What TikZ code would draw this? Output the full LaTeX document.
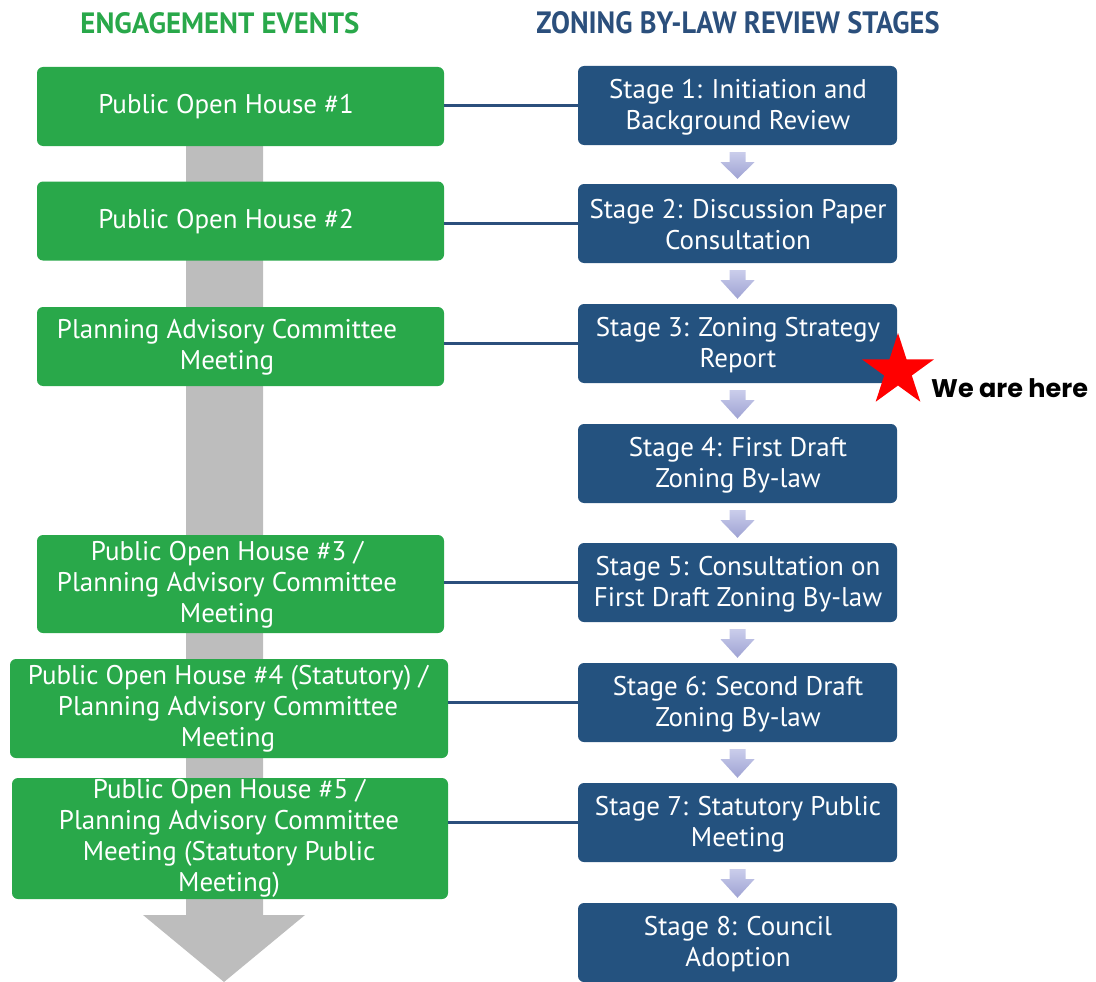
\documentclass[tikz,border=0pt]{standalone}
\usepackage{fontspec}
\setmainfont{PT Sans}
\newfontfamily\popfont{Poppins}
\usetikzlibrary{shapes.geometric}
\definecolor{evgreen}{HTML}{29A84A}
\definecolor{stblue}{HTML}{24527F}
\definecolor{headblue}{HTML}{2B4F7C}
\definecolor{flowgray}{HTML}{BDBDBD}
\definecolor{steplite}{HTML}{CACDEB}
\definecolor{stepdark}{HTML}{9EA2D3}
\tikzset{
  evbox/.style={draw=none, fill=evgreen, rounded corners=6pt, minimum width=407pt, minimum height=79pt, inner sep=0pt},
  stbox/.style={draw=none, fill=stblue, rounded corners=6pt, minimum width=319pt, minimum height=79pt, inner sep=0pt},
  boxtext/.style={text=white, align=center, inner sep=0pt, font=\fontsize{27}{31}\selectfont},
  link/.style={draw=headblue, line width=3pt},
  heading/.style={inner sep=0pt, font=\bfseries}
}
\begin{document}
\begin{tikzpicture}[x=1pt, y=-1pt]
\useasboundingbox (0,0) rectangle (1096,982);

% headings
\node[heading, text=evgreen] (h1) at (220,23) {\resizebox{279pt}{21pt}{ENGAGEMENT EVENTS}};
\node[heading, text=headblue] (h2) at (738,23) {\resizebox{403pt}{22pt}{ZONING BY-LAW REVIEW STAGES}};

% timeline arrow behind the engagement events
\fill[flowgray] (186,146) -- (263,146) -- (263,915) -- (305,915) -- (224,982) -- (143,915) -- (186,915) -- cycle;

% engagement events
\node[evbox] (ge1) at (240.5,106.5) {};
\node[evbox] (ge2) at (240.5,221) {};
\node[evbox] (ge3) at (240.5,346.5) {};
\node[evbox, minimum height=98pt] (ge4) at (240.5,584) {};
\node[evbox, minimum width=438pt, minimum height=99pt] (ge5) at (229,708.5) {};
\node[evbox, minimum width=436pt, minimum height=121pt] (ge6) at (230,838.5) {};

\node[boxtext] (ge1t) at (226,107) {Public Open House \#1};
\node[boxtext] (ge2t) at (226,222) {Public Open House \#2};
\node[boxtext] (ge3t) at (227,347) {Planning Advisory Committee\\Meeting};
\node[boxtext] (ge4t) at (227,585) {Public Open House \#3 /\\Planning Advisory Committee\\Meeting};
\node[boxtext] (ge5t) at (228,709) {Public Open House \#4 (Statutory) /\\Planning Advisory Committee\\Meeting};
\node[boxtext] (ge6t) at (229,838) {Public Open House \#5 /\\Planning Advisory Committee\\Meeting (Statutory Public\\Meeting)};

% review stages
\foreach \i/\y/\txt in {
  1/105.5/{Stage 1: Initiation and\\Background Review},
  2/223.5/{Stage 2: Discussion Paper\\Consultation},
  3/343.5/{Stage 3: Zoning Strategy\\Report},
  4/463.5/{Stage 4: First Draft\\Zoning By-law},
  5/582.5/{Stage 5: Consultation on\\First Draft Zoning By-law},
  6/702.5/{Stage 6: Second Draft\\Zoning By-law},
  7/822.5/{Stage 7: Statutory Public\\Meeting},
  8/942.5/{Stage 8: Council\\Adoption}}
{
  \node[stbox] (st\i) at (737.5,\y) {};
  \node[boxtext] (st\i t) at (738,\y+1.5) {\txt};
}

% small step arrows between stages
\foreach \a/\b in {1/2,2/3,3/4,4/5,5/6,6/7,7/8}{
  \shade[top color=steplite, bottom color=stepdark]
    ([xshift=-8pt,yshift=-7pt]st\a.south) -- ([xshift=8pt,yshift=-7pt]st\a.south)
    -- ([xshift=8pt,yshift=-17pt]st\a.south) -- ([xshift=17pt,yshift=-17pt]st\a.south)
    -- ([yshift=5pt]st\b.north) -- ([xshift=-17pt,yshift=-17pt]st\a.south)
    -- ([xshift=-8pt,yshift=-17pt]st\a.south) -- cycle;
}

% links from events to stages
\draw[link] (st1.west) -- (st1.west -| ge1.east);
\draw[link] (st2.west) -- (st2.west -| ge2.east);
\draw[link] (st3.west) -- (st3.west -| ge3.east);
\draw[link] (st5.west) -- (st5.west -| ge4.east);
\draw[link] (st6.west) -- (st6.west -| ge5.east);
\draw[link] (st7.west) -- (st7.west -| ge6.east);

% current position marker
\node[star, star points=5, star point ratio=2.618, fill=red, minimum size=76pt, inner sep=0pt] (mark) at (898,371) {};
\node[anchor=west, inner sep=0pt, font=\popfont\bfseries\fontsize{25.5}{30}\selectfont] (here) at (931,388) {We are here};
\end{tikzpicture}
\end{document}
